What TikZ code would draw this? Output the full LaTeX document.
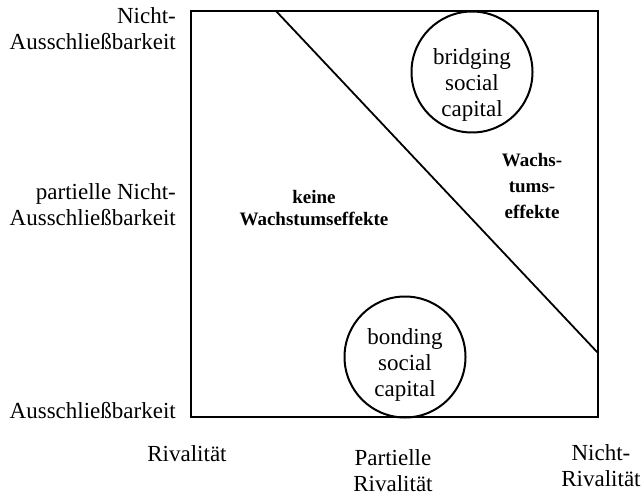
\documentclass[tikz,border=0pt]{standalone}
\usepackage{fontspec}
\setmainfont{Liberation Serif}
\usepackage{tikz}

\begin{document}
\begin{tikzpicture}[x=1pt, y=-1pt,
    axis/.style = {font=\fontsize{23}{26}\selectfont, inner sep=0pt, align=center},
    zone/.style = {font=\bfseries\fontsize{19}{26}\selectfont, inner sep=0pt, align=center},
    capital/.style = {draw, circle, line width=2pt, minimum size=121pt, inner sep=0pt},
    captext/.style = {font=\fontsize{23}{26}\selectfont, inner sep=0pt, align=center}]
    \useasboundingbox (0,0) rectangle (644,497);
    % Feld mit Trennlinie
    \coordinate (sw) at (191,417);
    \coordinate (ne) at (598,11);
    \coordinate (d1) at (276,11);
    \coordinate (d2) at (598,353);
    \draw [line width=2.5pt] (sw) rectangle (ne);
    \draw [line width=1.8pt] (d1) to (d2);
    % Sozialkapital
    \node [capital] (bridging) at (472,72) {};
    \node [captext] (bridgingtext) at (472,85) {bridging\\social\\capital};
    \node [capital] (bonding) at (405,357) {};
    \node [captext] (bondingtext) at (405,365) {bonding\\social\\capital};
    % Zonen
    \node [zone] (keine) at (314,208) {keine\\[-4pt]Wachstumseffekte};
    \node [zone] (wachs) at (532,186) {Wachs-\\tums-\\effekte};
    % Achsen
    \node [axis, anchor=east, align=right] (nae) at (176,29) {Nicht-\\Ausschließbarkeit};
    \node [axis, anchor=east, align=right] (pnae) at (176,205) {partielle Nicht-\\Ausschließbarkeit};
    \node [axis, anchor=base east] (ae) at (176,418) {Ausschließbarkeit};
    \node [axis, anchor=base] (riv) at (187,461) {Rivalität};
    \node [axis] (priv) at (393,471) {Partielle\\Rivalität};
    \node [axis] (nriv) at (601,466) {Nicht-\\Rivalität};
\end{tikzpicture}
\end{document}
